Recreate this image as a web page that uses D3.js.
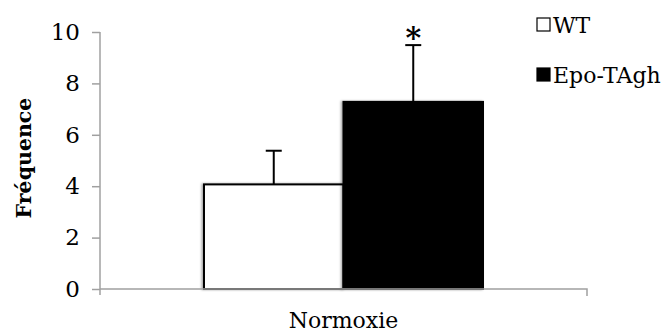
<!DOCTYPE html>
<html>
<head>
<meta charset="utf-8">
<script src="https://cdn.jsdelivr.net/npm/d3@7"></script>
<style>
  html, body { margin: 0; padding: 0; background: #fff; }
  svg { display: block; }
  text { font-family: "DejaVu Serif", serif; fill: #000; }
</style>
</head>
<body>
<svg id="chart" width="672" height="333"></svg>
<script>
// Frequency per genotype under normoxia, with SEM error bars
const categories = ["Normoxie"];
const seriesNames = ["WT", "Epo-TAgh"];
const seriesColors = ["#ffffff", "#000000"];
const means = [4.07, 7.28];
const errors = [1.31, 2.21];
const significance = ["", "*"];
const yTicks = [0, 2, 4, 6, 8, 10];

const svg = d3.select("#chart");
const axisColor = "#a0a0a0";

const x = d3.scaleBand().domain(categories).range([100, 587]);
const inner = d3.scaleBand().domain(seriesNames)
  .range([x(categories[0]) + 104, x(categories[0]) + x.bandwidth() - 104]);
const y = d3.scaleLinear().domain([0, 10]).range([289, 32]);

// soft shadow on the left of each bar
const defs = svg.append("defs");
const f = defs.append("filter").attr("id", "shadow")
  .attr("x", "-10%").attr("y", "-5%").attr("width", "120%").attr("height", "110%");
f.append("feDropShadow").attr("dx", -1.5).attr("dy", 0).attr("stdDeviation", 1.2)
  .attr("flood-color", "#000").attr("flood-opacity", 0.35);

// y axis
const yAxis = svg.append("g").attr("transform", "translate(100,0)")
  .call(d3.axisLeft(y).tickValues(yTicks).tickSize(8).tickPadding(12).tickFormat(d3.format("d")));
yAxis.select(".domain").attr("stroke", axisColor).attr("stroke-width", 1.5)
  .attr("d", `M0,${y(10)}V${y(0) + 6}`);
yAxis.selectAll(".tick line").attr("stroke", axisColor).attr("stroke-width", 1.5);
yAxis.selectAll(".tick text").attr("font-size", 23).attr("font-family", "DejaVu Serif").attr("fill", "#000");

// bars
const bars = svg.append("g");
seriesNames.forEach((s, i) => {
  bars.append("rect")
    .attr("x", inner(s))
    .attr("y", y(means[i]))
    .attr("width", inner.bandwidth())
    .attr("height", y(0) - y(means[i]))
    .attr("fill", seriesColors[i])
    .attr("stroke", "#000")
    .attr("stroke-width", 2)
    .attr("filter", "url(#shadow)");
});

// error bars (upper half only)
seriesNames.forEach((s, i) => {
  const cx = inner(s) + inner.bandwidth() / 2;
  const top = y(means[i] + errors[i]);
  bars.append("line").attr("x1", cx).attr("x2", cx)
    .attr("y1", y(means[i])).attr("y2", top)
    .attr("stroke", "#000").attr("stroke-width", 2);
  bars.append("line").attr("x1", cx - 8).attr("x2", cx + 8)
    .attr("y1", top).attr("y2", top)
    .attr("stroke", "#000").attr("stroke-width", 2);
  if (significance[i]) {
    bars.append("text").attr("x", cx).attr("y", top + 3)
      .attr("text-anchor", "middle").attr("font-size", 30).attr("font-weight", "bold")
      .text(significance[i]);
  }
});

// x axis
const xAxis = svg.append("g").attr("transform", `translate(0,${y(0)})`)
  .call(d3.axisBottom(x).tickSize(0));
xAxis.select(".domain").attr("stroke", axisColor).attr("stroke-width", 1.5)
  .attr("d", `M100,0H587V7`);
xAxis.selectAll(".tick text").attr("font-size", 22).attr("font-family", "DejaVu Serif").attr("fill", "#000")
  .attr("y", 39).attr("dy", 0);

// y axis title
svg.append("text")
  .attr("transform", "translate(31,158) rotate(-90)")
  .attr("text-anchor", "middle")
  .attr("font-size", 20.5).attr("font-weight", "bold")
  .text("Fréquence");

// legend
const legend = svg.append("g");
seriesNames.forEach((s, i) => {
  const ly = 25 + i * 50;
  legend.append("rect").attr("x", 537).attr("y", ly - 7)
    .attr("width", 13).attr("height", 13)
    .attr("fill", seriesColors[i]).attr("stroke", "#000").attr("stroke-width", 1.2);
  legend.append("text").attr("x", 553).attr("y", ly + 8)
    .attr("font-size", 22).text(s);
});
</script>
</body>
</html>
